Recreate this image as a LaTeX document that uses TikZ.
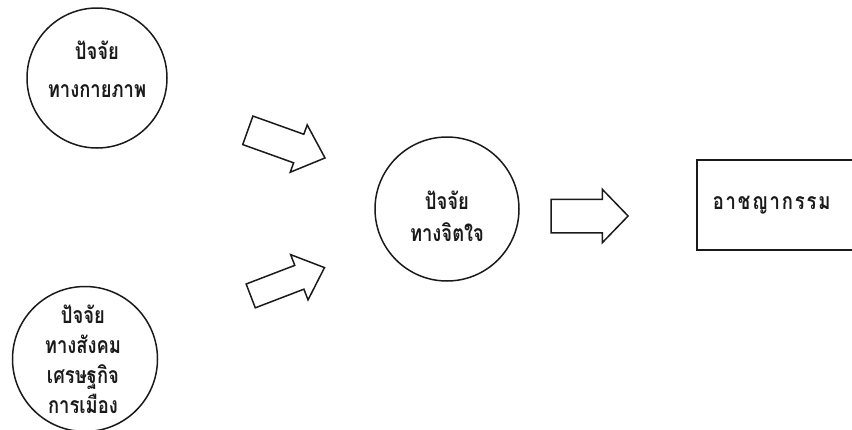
\documentclass[tikz,border=0pt]{standalone}
\usepackage{fontspec}
\newfontfamily\thaifont[Script=Thai,FakeStretch=0.8]{Loma}
\newfontfamily\thaispaced[Script=Thai,FakeStretch=0.8,LetterSpace=8]{Loma}
\usetikzlibrary{shapes.arrows}
\definecolor{ink}{HTML}{1A1A1A}

\begin{document}
\begin{tikzpicture}[x=1pt,y=1pt,
  factor/.style={circle,draw=ink,line width=1.5pt,inner sep=0pt},
  factorname/.style={align=center,text=ink,font=\thaifont\bfseries\fontsize{23}{30}\selectfont},
  blockarrow/.style={single arrow,draw=ink,line width=1.5pt,inner xsep=0pt,
    single arrow tip angle=84},
]
\useasboundingbox (0,0) rectangle (852,-429);
% factors
\node[factor,minimum size=140pt] (phys) at (97,-78) {};
\node[factorname] (physname) at ([yshift=9pt]phys) {ปัจจัย\\[8pt]ทางกายภาพ};
\node[factor,minimum size=145pt] (socio) at (85,-359) {};
\node[factorname] (socioname) at ([xshift=-2pt]socio) {ปัจจัย\\ทางสังคม\\เศรษฐกิจ\\การเมือง};
\node[factor,minimum size=144pt] (mind) at (447,-209) {};
\node[factorname] (mindname) at ([yshift=-7pt]mind) {ปัจจัย\\[2pt]ทางจิตใจ};
% outcome
\node[draw=ink,line width=1.5pt,anchor=west,minimum height=90pt,text width=178pt,
  inner xsep=16pt,align=left,text=ink,font=\thaispaced\bfseries\fontsize{23}{26}\selectfont] (crime) at (696,-205) {อาชญากรรม};
% block arrows
\node[blockarrow,minimum height=82pt,inner ysep=14.4pt,single arrow head extend=10pt,
  rotate=-19.7] (physarrow) at (278.5,-141.3) {};
\node[blockarrow,minimum height=79pt,inner ysep=12pt,single arrow head extend=11.5pt,
  rotate=21] (socioarrow) at (281,-284.3) {};
\node[blockarrow,minimum height=77pt,inner ysep=16pt,single arrow head extend=10pt,
  single arrow tip angle=92] (mindarrow) at (581.5,-216) {};
\end{tikzpicture}
\end{document}
